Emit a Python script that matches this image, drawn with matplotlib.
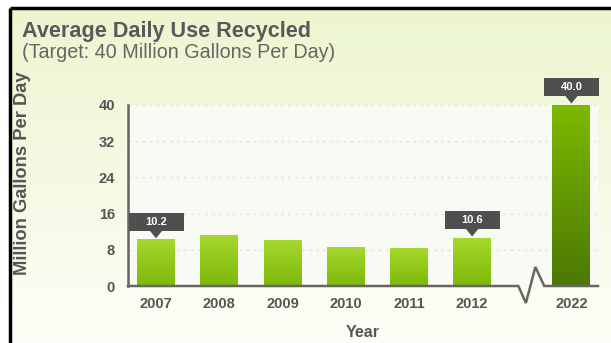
import numpy as np
import matplotlib
matplotlib.use("Agg")
import matplotlib.pyplot as plt
import matplotlib.transforms as mtransforms
from matplotlib.patches import Rectangle, Polygon

# data
years = ["2007", "2008", "2009", "2010", "2011", "2012", "2022"]
values = [10.2, 11.1, 10.1, 8.5, 8.2, 10.6, 40.0]
labelled = {"2007": "10.2", "2012": "10.6", "2022": "40.0"}
yticks = [0, 8, 16, 24, 32, 40]

plt.rcParams['font.family'] = ['Liberation Sans', 'DejaVu Sans']

fig = plt.figure(figsize=(6.11, 3.43), dpi=100)

# background gradient over the whole figure
bg = fig.add_axes([0, 0, 1, 1], zorder=-10)
grad = np.linspace(0, 1, 256).reshape(-1, 1)
top_c = np.array([0.925, 0.961, 0.808])
bot_c = np.array([0.996, 0.996, 0.973])
img = top_c * (1 - grad[..., None]) + bot_c * grad[..., None]
img = np.repeat(img, 2, axis=1)
bg.imshow(img, aspect='auto', extent=[0, 1, 0, 1])
bg.set_xlim(0, 1)
bg.set_ylim(0, 1)
bg.axis('off')
# black frame lines top/left, white outside
bg.add_patch(Rectangle((0, 1 - 7.5 / 343), 1, 7.5 / 343, color='white', lw=0))
bg.add_patch(Rectangle((0, 0), 8.5 / 611, 1, color='white', lw=0))
bg.plot([9.5 / 611, 1], [1 - 7.5 / 343] * 2, color='black', lw=2.5, solid_capstyle='butt')
bg.plot([9.5 / 611] * 2, [0, 1 - 7.5 / 343], color='black', lw=2.5, solid_capstyle='butt')

fig.text(22 / 611, 1 - 32 / 343, "Average Daily Use Recycled", fontsize=15.6,
         fontweight='bold', color='#595959', va='center', ha='left')
fig.text(22 / 611, 1 - 52 / 343, "(Target: 40 Million Gallons Per Day)", fontsize=14.2,
         color='#666666', va='center', ha='left')
fig.text(23 / 611, 1 - 173 / 343, "Million Gallons Per Day", fontsize=13.2,
         fontweight='bold', color='#555555', rotation=90, va='center', ha='center')

ax = fig.add_axes([128 / 611, 1 - 286 / 343, 470 / 611, 181 / 343])
ax.set_facecolor('#f8fbf3')

pos = list(np.arange(len(years) - 1)) + [len(years) - 2 + 1.57]

bars = ax.bar(pos, values, width=0.6, color='none', zorder=3)
for i, b in enumerate(bars):
    if years[i] == "2022":
        c0, c1 = np.array([0.49, 0.73, 0.0]), np.array([0.30, 0.47, 0.02])
    else:
        c0, c1 = np.array([0.65, 0.85, 0.17]), np.array([0.49, 0.72, 0.04])
    g = np.linspace(0, 1, 100).reshape(-1, 1, 1)
    gi = c0 * (1 - g) + c1 * g
    gi = np.repeat(gi, 2, axis=1)
    x0, w, h = b.get_x(), b.get_width(), b.get_height()
    ax.imshow(gi, aspect='auto', extent=[x0, x0 + w, 0, h], zorder=3)

ax.set_xlim(-0.443, 6.99)
ax.set_ylim(0, 40)

ax.set_yticks(yticks)
ax.set_xticks(pos)
ax.set_xticklabels(years)
ax.tick_params(axis='both', length=0, labelsize=10.5, labelcolor='#555555')
ax.tick_params(axis='y', pad=9.5)
ax.tick_params(axis='x', pad=8)
for lab in ax.get_xticklabels() + ax.get_yticklabels():
    lab.set_fontweight('bold')

ax.yaxis.grid(True, linestyle=(0, (2, 3)), color='#dfe6d8', lw=1)
ax.set_axisbelow(True)

for s in ['top', 'right', 'bottom']:
    ax.spines[s].set_visible(False)
ax.spines['left'].set_color('#666666')
ax.spines['left'].set_linewidth(1.8)

# x axis with break
xl = ax.get_xlim()
ax.plot([xl[0], 5.73, 5.85, 6.0, 6.14, xl[1]], [0, 0, -3.75, 4.2, 0, 0],
        color='#666666', lw=1.8, clip_on=False, zorder=4, solid_joinstyle='miter')

ax.set_xlabel("Year", fontsize=11.5, fontweight='bold', color='#555555', labelpad=10)

# callouts
for i, yr in enumerate(years):
    if yr not in labelled:
        continue
    t = fig.dpi_scale_trans + mtransforms.ScaledTranslation(pos[i], values[i], ax.transData)
    ax.add_patch(Rectangle((-0.275, 0.09), 0.55, 0.18, transform=t, fc='#4f4f4f',
                           ec='none', clip_on=False, zorder=6))
    ax.add_patch(Polygon([(-0.065, 0.095), (0.065, 0.095), (0, 0.015)], closed=True,
                         transform=t, fc='#4f4f4f', ec='none', clip_on=False, zorder=6))
    ax.text(0, 0.18, labelled[yr], transform=t, ha='center', va='center', color='white',
            fontsize=8, fontweight='bold', zorder=7)

fig.savefig("out.png", dpi=100)
